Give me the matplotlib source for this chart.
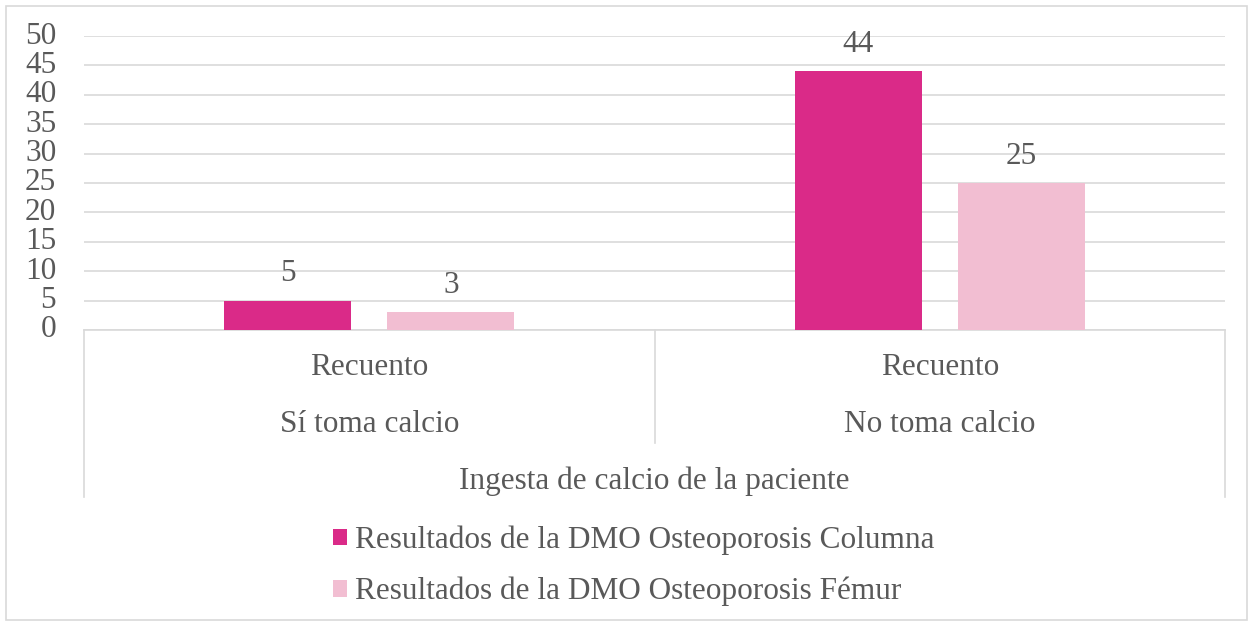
import matplotlib
matplotlib.use('Agg')
import matplotlib.pyplot as plt
from matplotlib.patches import Rectangle
import numpy as np

groups = ['Sí toma calcio', 'No toma calcio']
sub_label = 'Recuento'
axis_title = 'Ingesta de calcio de la paciente'
series_names = ['Resultados de la DMO Osteoporosis Columna',
                'Resultados de la DMO Osteoporosis Fémur']
columna = [5, 44]
femur = [3, 25]
yticks = [0, 5, 10, 15, 20, 25, 30, 35, 40, 45, 50]

colors = ['#DA2A88', '#F2BED2']
text_col = '#595959'
grid_col = '#D9D9D9'

plt.rcParams['font.family'] = ['Liberation Serif', 'DejaVu Serif']
fs = 22.5

W, H = 1253, 623
fig = plt.figure(figsize=(W / 100, H / 100), dpi=100)
ax = fig.add_axes([84 / W, 1 - 330 / H, (1225 - 84) / W, (330 - 36) / H])

x = np.arange(len(groups)) + 0.5
bw = 0.223
off = 0.143
for vals, c, sgn, name in zip([columna, femur], colors, [-1, 1], series_names):
    bars = ax.bar(x + sgn * off, vals, width=bw, color=c, label=name, zorder=3)
    for b, v in zip(bars, vals):
        ax.annotate(str(v), (b.get_x() + b.get_width() / 2, v), xytext=(0, 9),
                    textcoords='offset points', ha='center', va='bottom',
                    fontsize=fs, color=text_col)

ax.set_xlim(0, len(groups))
ax.set_ylim(0, 50)
ax.set_yticks(yticks)
ax.tick_params(axis='y', length=0, labelsize=fs, labelcolor=text_col, pad=20)
for lab in ax.get_yticklabels():
    lab.set_verticalalignment('center')
ax.set_xticks([])
ax.grid(axis='y', color=grid_col, linewidth=1.2, zorder=0)
for s in ['left', 'right', 'top']:
    ax.spines[s].set_visible(False)
ax.spines['bottom'].set_color(grid_col)
ax.spines['bottom'].set_linewidth(1.2)

# multi-level category axis
tr = ax.get_xaxis_transform()
for xi in range(len(groups) + 1):
    ybot = -0.568 if xi in (0, len(groups)) else -0.384
    ax.plot([xi, xi], [0, ybot], transform=tr, color=grid_col, lw=1.2, clip_on=False)
for xi, g in zip(x, groups):
    ax.text(xi, -0.126, sub_label, transform=tr, ha='center', va='center',
            fontsize=fs, color=text_col)
    ax.text(xi, -0.32, g, transform=tr, ha='center', va='center',
            fontsize=fs, color=text_col)
ax.text(len(groups) / 2, -0.514, axis_title, transform=tr, ha='center', va='center',
        fontsize=fs, color=text_col)

# outer chart border
fig.patches.append(Rectangle((6 / W, 3 / H), (1247 - 6) / W, (617 - 3) / H,
                             transform=fig.transFigure, fill=False,
                             edgecolor=grid_col, lw=1.2))

leg = fig.legend(loc='center', bbox_to_anchor=(634 / W, 1 - 566 / H), frameon=False,
                 fontsize=fs, handlelength=0.45, handleheight=0.45,
                 handletextpad=0.25, labelspacing=0.7, borderpad=0)
for t in leg.get_texts():
    t.set_color(text_col)

fig.savefig('out.png', dpi=100)
